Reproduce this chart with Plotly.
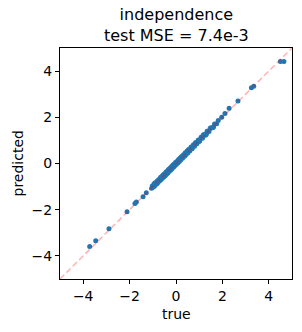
import plotly.graph_objects as go

# true values and predicted values
true_vals = [
    -3.72, -3.46, -2.89, -2.11, -1.77, -1.71, -1.42, -1.28,
    -1.05, -1.02, -0.97, -0.95, -0.90, -0.88, -0.83, -0.80, -0.77, -0.74,
    -0.70, -0.67, -0.64, -0.61, -0.58, -0.55, -0.52, -0.49, -0.46, -0.43,
    -0.40, -0.37, -0.34, -0.31, -0.28, -0.25, -0.22, -0.19, -0.16, -0.13,
    -0.10, -0.07, -0.04, -0.01, 0.02, 0.05, 0.08, 0.11, 0.14, 0.17,
    0.20, 0.24, 0.28, 0.32, 0.36, 0.40, 0.44, 0.48, 0.52, 0.56,
    0.60, 0.65, 0.70, 0.75, 0.80, 0.85, 0.90, 0.96, 1.02, 1.08,
    1.14, 1.20, 1.27, 1.34, 1.42, 1.50, 1.58, 1.66, 1.75, 1.82,
    -0.92, -0.81, -0.62, -0.47, -0.33, -0.18, -0.05, 0.09, 0.22, 0.37,
    0.53, 0.68, 0.83, 0.99, 1.17, 1.31, 1.47, 1.62,
    1.97, 2.11, 2.29, 2.67, 3.25, 3.35, 4.50, 4.65,
]
pred_vals = [
    -3.59, -3.34, -2.82, -2.09, -1.73, -1.67, -1.44, -1.27,
    -1.07, -0.97, -1.02, -0.89, -0.95, -0.82, -0.88, -0.75, -0.81, -0.69,
    -0.75, -0.61, -0.69, -0.56, -0.63, -0.49, -0.57, -0.44, -0.52, -0.37,
    -0.45, -0.32, -0.40, -0.25, -0.33, -0.20, -0.28, -0.13, -0.21, -0.07,
    -0.15, -0.02, -0.09, 0.05, -0.03, 0.10, 0.03, 0.17, 0.09, 0.23,
    0.15, 0.30, 0.23, 0.38, 0.31, 0.46, 0.39, 0.54, 0.47, 0.62,
    0.55, 0.71, 0.65, 0.81, 0.75, 0.91, 0.85, 1.02, 0.97, 1.14,
    1.09, 1.26, 1.22, 1.40, 1.38, 1.55, 1.55, 1.71, 1.72, 1.86,
    -0.86, -0.85, -0.57, -0.51, -0.28, -0.22, 0.00, 0.05, 0.27, 0.33,
    0.58, 0.64, 0.88, 0.95, 1.22, 1.27, 1.52, 1.58,
    2.00, 2.16, 2.39, 2.71, 3.28, 3.34, 4.42, 4.42,
]
axis_range = [-5, 5]
tick_vals = [-4, -2, 0, 2, 4]

FONT = "DejaVu Sans, Liberation Sans, sans-serif"

fig = go.Figure()
fig.add_trace(go.Scatter(
    x=true_vals, y=pred_vals, mode="markers",
    marker=dict(color="#1f77b4", size=5, line=dict(width=0)),
    showlegend=False, hoverinfo="skip",
))
fig.add_trace(go.Scatter(
    x=axis_range, y=axis_range, mode="lines",
    line=dict(color="rgba(255,0,0,0.3)", width=1.5, dash="6px,3px"),
    showlegend=False, hoverinfo="skip",
))

axis_common = dict(
    range=axis_range, tickvals=tick_vals, ticks="outside", ticklen=4,
    tickwidth=1, tickcolor="black", showline=True, linecolor="black",
    linewidth=1, mirror=True, showgrid=False, zeroline=False,
    automargin=False,
    tickfont=dict(family=FONT, size=14, color="black"),
)

def label(text, x, y, size, angle=0):
    fig.add_annotation(
        text=text, x=x, y=y, xref="paper", yref="paper",
        xanchor="center", yanchor="middle", showarrow=False,
        textangle=angle, font=dict(family=FONT, size=size, color="black"),
    )

fig.update_layout(
    width=302, height=332,
    margin=dict(l=60, r=10, t=48, b=53, autoexpand=False),
    paper_bgcolor="white", plot_bgcolor="white",
    font=dict(family=FONT, color="black"),
    xaxis=axis_common,
    yaxis=axis_common,
)

# plot area: 232 px wide, 231 px tall
label("independence<br>test MSE = 7.4e-3", 0.5, (279 - 25) / 231, 16)
label("true", 0.5, (279 - 313.5) / 231, 14)
label("predicted", (17 - 60) / 232, 0.5, 14, angle=-90)

fig.write_html(
    "out.html",
    config={"displayModeBar": False},
    post_script="document.body.style.margin='0';",
)
